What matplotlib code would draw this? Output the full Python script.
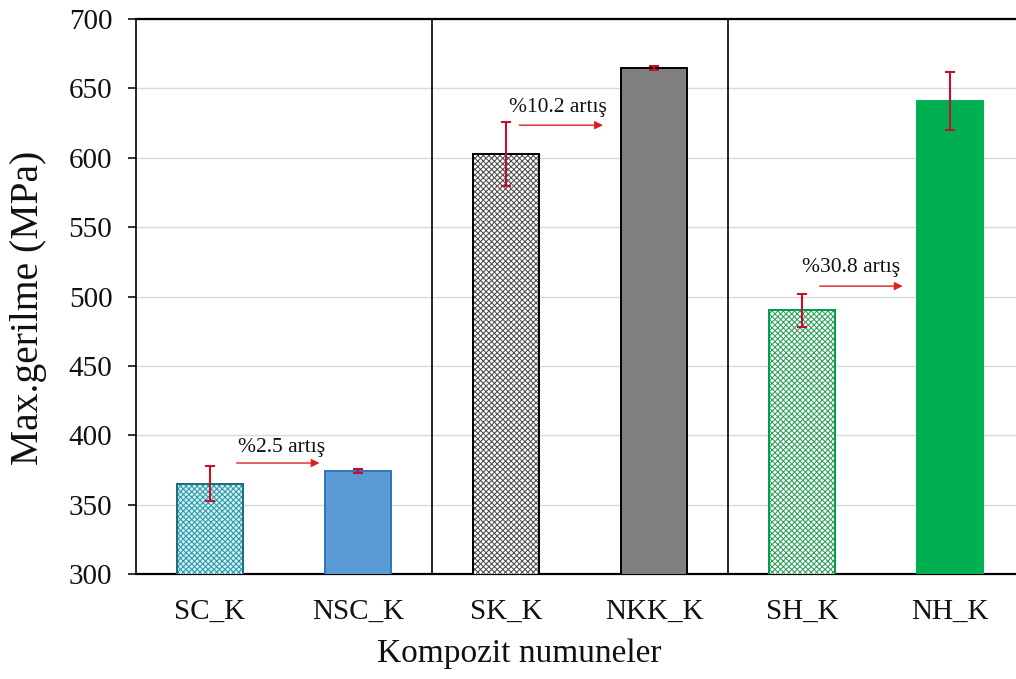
import matplotlib
matplotlib.use("Agg")
import matplotlib.pyplot as plt

# Composite specimens and their maximum stress (MPa) with scatter
categories = ["SC_K", "NSC_K", "SK_K", "NKK_K", "SH_K", "NH_K"]
max_stress = [365, 374, 603, 664.5, 490, 641]
stress_err = [12.5, 1.5, 23, 1.5, 12, 21]

# Increase labels between the paired specimens (from index -> to index)
increase_pairs = [(0, 1), (2, 3), (4, 5)]
increase_labels = ["%2.5 artış", "%10.2 artış", "%30.8 artış"]

# Arrow / label placement for each pair (x offsets from the left bar, y in MPa)
arrow_start = [0.18, 0.09, 0.12]
arrow_end = [0.74, 0.655, 0.68]
arrow_y = [380, 623.5, 507.5]
label_x = [0.48, 0.35, 0.33]
label_y = [391.5, 636, 521]

# Bar styling
face_colors = ["#d4eef2", "#5b9bd5", "#ffffff", "#7f7f7f", "#ffffff", "#00b050"]
edge_colors = ["#1f6f80", "#2e75b6", "#000000", "#000000", "#00a04a", "#00b050"]
hatches = ["xxxxxx", None, "xxxxxx", None, "xxxxxx", None]
hatch_colors = ["#2a9aa8", None, "#505050", None, "#2ea05a", None]

plt.rcParams["font.family"] = ["Liberation Serif", "DejaVu Serif"]
plt.rcParams["hatch.linewidth"] = 0.75

fig = plt.figure(figsize=(10.16, 6.79), dpi=100)
ax = fig.add_axes([0.1339, 0.1546, 0.874, 0.8174])

x = list(range(len(categories)))
width = 0.45

# base fill + outline
ax.bar(x, max_stress, width=width, color=face_colors,
       edgecolor=edge_colors, linewidth=1.4, zorder=3)
# texture overlays for the patterned bars
for i in x:
    if hatches[i]:
        ax.bar(i, max_stress[i], width=width, color="none",
               edgecolor=hatch_colors[i], hatch=hatches[i], linewidth=0,
               zorder=3.5)
        ax.bar(i, max_stress[i], width=width, color="none",
               edgecolor=edge_colors[i], linewidth=1.4, zorder=3.6)

ax.errorbar(x, max_stress, yerr=stress_err, fmt="none", ecolor="#c0102e",
            elinewidth=1.5, capsize=3.5, capthick=1.5, zorder=5)

# group separators
for sep in (1.5, 3.5):
    ax.axvline(sep, color="black", linewidth=1.2, zorder=4)

# increase arrows and labels
for k, ((a, b), lab) in enumerate(zip(increase_pairs, increase_labels)):
    ax.annotate("", xy=(a + arrow_end[k], arrow_y[k]),
                xytext=(a + arrow_start[k], arrow_y[k]),
                arrowprops=dict(arrowstyle="-|>", color="#e02020", lw=1.0,
                                mutation_scale=12, shrinkA=0, shrinkB=0),
                zorder=6)
    ax.text(a + label_x[k], label_y[k], lab, ha="center", va="center",
            fontsize=15.5, color="#111111", zorder=6)

ax.set_ylim(300, 700)
ax.set_xlim(-0.5, 5.5)
ax.set_yticks(range(300, 701, 50))
ax.set_xticks(x)
ax.set_xticklabels(categories)
ax.yaxis.grid(True, color="#d9d9d9", linewidth=1.0, zorder=0)
ax.set_axisbelow(True)

ax.tick_params(axis="y", direction="out", length=6, width=1.2, pad=11,
               labelsize=21, colors="#111111")
ax.tick_params(axis="x", length=0, pad=18, labelsize=21, colors="#111111")

for side in ("top", "bottom"):
    ax.spines[side].set_linewidth(1.6)
ax.spines["left"].set_linewidth(1.2)
ax.spines["right"].set_visible(False)

ax.set_ylabel("Max.gerilme (MPa)", fontsize=28.5, color="#111111")
ax.set_xlabel("Kompozit numuneler", fontsize=24, color="#111111")
ax.yaxis.set_label_coords(-0.1, 0.479)
ax.xaxis.set_label_coords(0.431, -0.117)

fig.savefig("out.png", dpi=100)
